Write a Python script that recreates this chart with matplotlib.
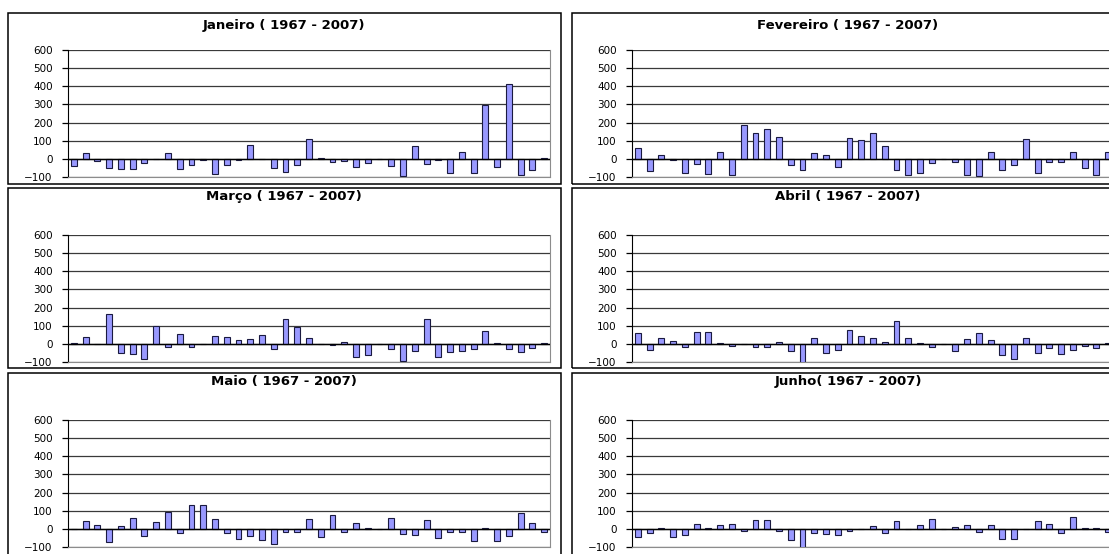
import numpy as np
import matplotlib.pyplot as plt
from matplotlib.patches import Rectangle

# anomalias mensais 1967 - 2007 (uma barra por ano)
years = list(range(1967, 2008))

janeiro = [-40, 35, -12, -50, -55, -55, -22, 0, 30, -58, -35, -8, -82, -33, -8, 75,
           0, -50, -75, -36, 107, 3, -16, -10, -47, -22, 0, -37, -95, 71, -26, -5,
           -78, 40, -80, 298, -45, 413, -87, -62, 5]
fevereiro = [58, -65, 20, -5, -78, -28, -82, 36, -89, 185, 145, 162, 118, -35, -60, 35,
             20, -45, 115, 104, 145, 73, -60, -87, -80, -25, 0, -15, -90, -92, 40, -60,
             -35, 107, -80, -15, -20, 40, -50, -90, 40]
marco = [3, 38, -3, 162, -51, -57, -82, 96, -15, 57, -15, 0, 42, 38, 21, 28,
         51, -26, 136, 91, 34, 0, -8, 8, -72, -62, 0, -28, -95, -42, 135, -74,
         -45, -40, -28, 72, 3, -28, -45, -25, 5]
abril = [58, -35, 31, 15, -18, 64, 64, 5, -10, -2, -15, -18, 8, -38, -105, 30,
         -51, -35, 75, 44, 30, 10, 124, 35, 5, -18, 0, -40, 25, 62, 20, -62,
         -84, 35, -50, -25, -55, -35, -10, -25, 3]
maio = [0, 44, 24, -70, 18, 61, -41, 39, 94, -24, 131, 131, 54, -24, -56, -37,
        -61, -85, -17, -20, 54, -44, 76, -15, 33, 3, 0, 61, -26, -35, 50, -50,
        -15, -20, -68, 3, -65, -40, 85, 32, -18]
junho = [-47, -25, 5, -47, -35, 27, 5, 24, 28, -12, 47, 47, -12, -60, -105, -25,
         -30, -35, -12, -3, 15, -25, 44, -3, 20, 55, 0, 10, 20, -18, 20, -55,
         -58, 0, 45, 25, -25, 64, 5, 5, -20]

titles = ["Janeiro ( 1967 - 2007)", "Fevereiro ( 1967 - 2007)",
          "Março ( 1967 - 2007)", "Abril ( 1967 - 2007)",
          "Maio ( 1967 - 2007)", "Junho( 1967 - 2007)"]
y_ticks = [-100, 0, 100, 200, 300, 400, 500, 600]

W, H = 1109, 554

# moldura de cada linha: (topo, base, posicao do titulo) em pixels
row_frames = [(13, 184, 26), (188, 368, 197), (373, 562, 382)]


def draw_panel(fig, col, row, values, title):
    # moldura de cada grafico (estilo excel)
    fx = 8 if col == 0 else 572
    top, bottom, ty = row_frames[row]
    fig.add_artist(Rectangle((fx / W, 1 - bottom / H), 553 / W, (bottom - top) / H,
                             transform=fig.transFigure, fill=False,
                             lw=1.1, ec="black"))
    fig.text((fx + 276) / W, 1 - ty / H, title, ha="center", va="center",
             fontsize=9.5, fontweight="bold")

    ax_x = 68 if col == 0 else 632
    ax_top = 50 + 185 * row
    ax = fig.add_axes([ax_x / W, 1 - (ax_top + 127) / H, 482 / W, 127 / H])

    x = np.arange(len(values))
    ax.bar(x, values, width=0.5, color="#9999ff", edgecolor="#1a1a40",
           linewidth=0.8, zorder=3)
    ax.axhline(0, color="black", lw=1.0, zorder=4)

    ax.set_xlim(-0.5, len(values) - 0.5)
    ax.set_ylim(-100, 600)
    ax.set_yticks(y_ticks)
    ax.set_xticks([])
    ax.yaxis.grid(True, color="#3a3a3a", lw=0.9)
    ax.set_axisbelow(True)
    ax.tick_params(axis="y", direction="out", length=4.5, width=0.9,
                   labelsize=7.5, pad=6.5)

    ax.spines["top"].set_visible(False)
    ax.spines["left"].set_color("black")
    ax.spines["right"].set_color("#8c8c8c")
    ax.spines["bottom"].set_color("#8c8c8c")
    return ax


def main():
    fig = plt.figure(figsize=(W / 100, H / 100), dpi=100)
    series = [janeiro, fevereiro, marco, abril, maio, junho]
    for k, (vals, title) in enumerate(zip(series, titles)):
        draw_panel(fig, k % 2, k // 2, vals, title)
    fig.savefig("out.png", dpi=100)


if __name__ == "__main__":
    main()
